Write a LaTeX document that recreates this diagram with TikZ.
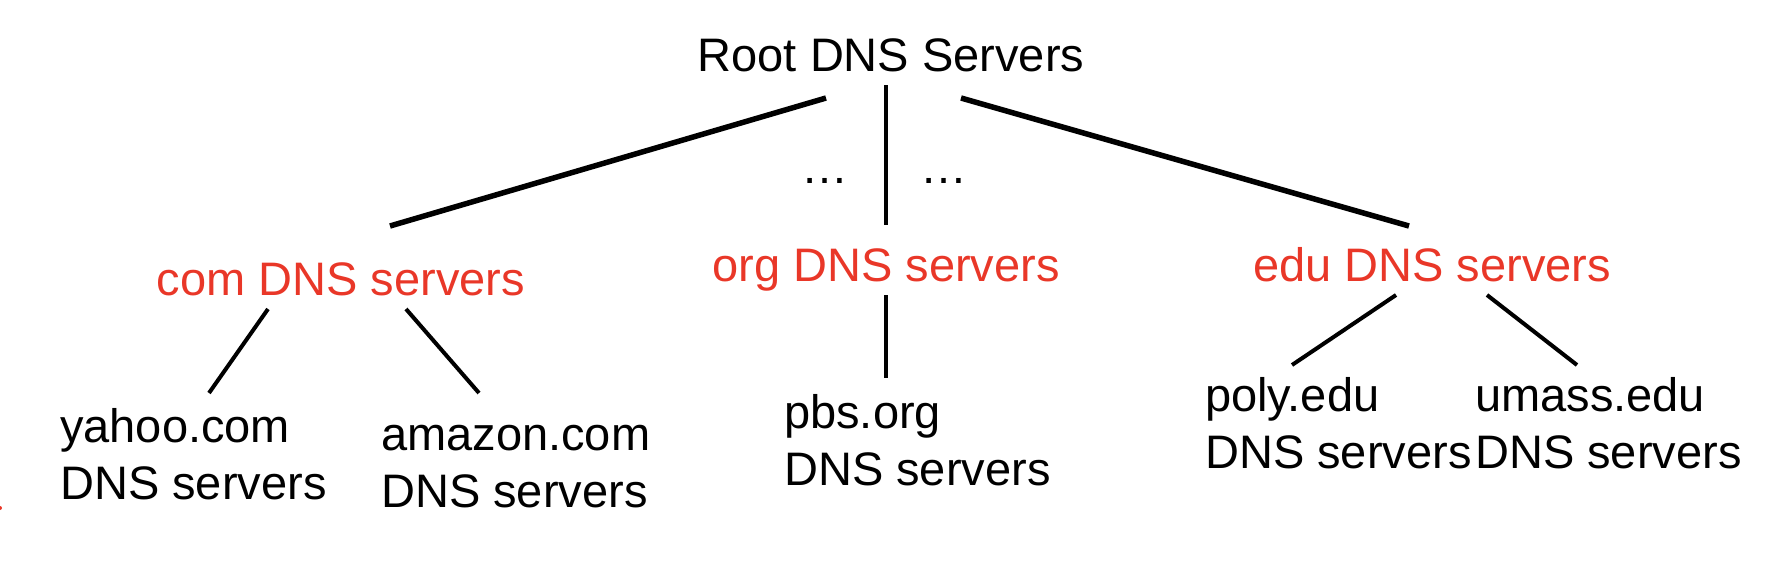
\documentclass[tikz,border=0pt]{standalone}
\usepackage{fontspec}
\newfontfamily\diagfont{Liberation Sans}
\definecolor{dnsred}{RGB}{233,55,40}

\begin{document}
\begin{tikzpicture}[x=1pt, y=-1pt,
  txt/.style={font={\diagfont\fontsize{47}{57}\selectfont}, inner sep=0pt},
  tld/.style={txt, text=dnsred, anchor=base},
  leaf/.style={txt, anchor=base west, align=left},
  rootline/.style={line width=5.5pt},
  subline/.style={line width=4pt}]

  \useasboundingbox (0,0) rectangle (1778,574);

  % Wurzel
  \node[txt, anchor=base] (root) at (891,71) {Root DNS Servers};

  % Top-Level-Domains
  \node[tld] (com) at (341,295) {com DNS servers};
  \node[tld] (org) at (886,281) {org DNS servers};
  \node[tld] (edu) at (1432,281) {edu DNS servers};

  % autoritative Server (Basislinie = letzte Zeile)
  \node[leaf] (yahoo) at (60,499) {yahoo.com\\DNS servers};
  \node[leaf] (amazon) at (381,507) {amazon.com\\DNS servers};
  \node[leaf] (pbs) at (784,485) {pbs.org\\DNS servers};
  \node[leaf] (poly) at (1205,468) {poly.edu\\DNS servers};
  \node[leaf] (umass) at (1475,468) {umass.edu\\DNS servers};

  % Auslassungspunkte
  \node[txt, anchor=base] (dotsl) at (825,183) {…};
  \node[txt, anchor=base] (dotsr) at (944,183) {…};

  % Linienenden
  \coordinate (root-com) at (826,98);
  \coordinate (root-org) at (886,85);
  \coordinate (root-edu) at (961,98);
  \coordinate (com-top) at (390,226);
  \coordinate (org-top) at (886,225);
  \coordinate (edu-top) at (1409,226);
  \coordinate (com-yahoo) at (268,309);
  \coordinate (com-amazon) at (406,309);
  \coordinate (org-pbs) at (886,295);
  \coordinate (edu-poly) at (1396,295);
  \coordinate (edu-umass) at (1487,295);
  \coordinate (yahoo-top) at (209,393);
  \coordinate (amazon-top) at (479,393);
  \coordinate (pbs-top) at (886,378);
  \coordinate (poly-top) at (1292,365);
  \coordinate (umass-top) at (1577,365);

  % Verbindungen
  \draw[rootline] (root-com) -- (com-top);
  \draw[subline] (root-org) -- (org-top);
  \draw[rootline] (root-edu) -- (edu-top);
  \draw[subline] (com-yahoo) -- (yahoo-top);
  \draw[subline] (com-amazon) -- (amazon-top);
  \draw[subline] (org-pbs) -- (pbs-top);
  \draw[subline] (edu-poly) -- (poly-top);
  \draw[subline] (edu-umass) -- (umass-top);

  % Rest am Rand
  \fill[dnsred] (0,508) circle (2);

\end{tikzpicture}
\end{document}
